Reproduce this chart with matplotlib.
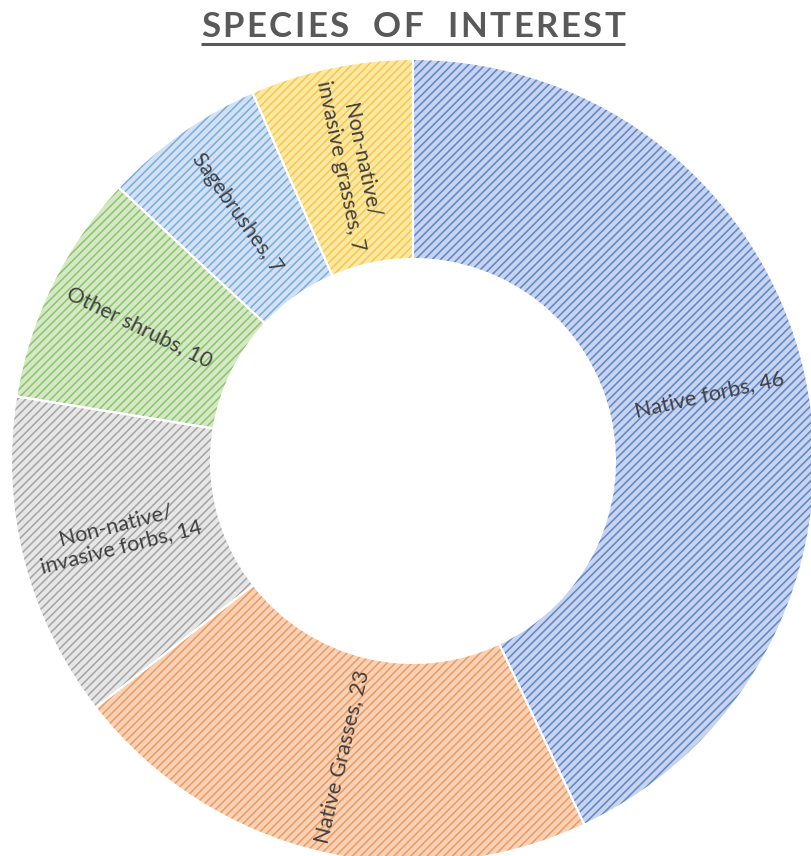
import numpy as np
import matplotlib
matplotlib.use("Agg")
import matplotlib.pyplot as plt
from matplotlib.font_manager import FontProperties

# Species counts by group
categories = [
    "Native forbs",
    "Native Grasses",
    "Non-native/\ninvasive forbs",
    "Other shrubs",
    "Sagebrushes",
    "Non-native/\ninvasive grasses",
]
counts = [46, 23, 14, 10, 7, 7]

fill_colors = ["#c6d4ef", "#f9d1b4", "#e6e6e6", "#d4e8c5", "#d1e2f4", "#fde8a3"]
hatch_colors = ["#6486c8", "#ec9c66", "#a6a6a6", "#90c46e", "#80acdd", "#f4c94f"]

plt.rcParams["hatch.linewidth"] = 1.15

W, H = 811, 856
fig = plt.figure(figsize=(W / 100, H / 100), dpi=100)
ax = fig.add_axes([0, 0, 1, 1])

cx, cy = 413, H - 461
r_out, r_in = 402, 202

wedges, _ = ax.pie(
    counts,
    startangle=90,
    counterclock=False,
    radius=r_out,
    center=(cx, cy),
    colors=fill_colors,
    wedgeprops=dict(width=r_out - r_in, linewidth=0),
    frame=True,
)
for w, hc in zip(wedges, hatch_colors):
    w.set_hatch("////")
    w.set_edgecolor(hc)
    w.set_linewidth(0)

# white separators between segments
ax.pie(
    counts,
    startangle=90,
    counterclock=False,
    radius=r_out,
    center=(cx, cy),
    colors=["none"] * len(counts),
    wedgeprops=dict(width=r_out - r_in, linewidth=1.5, edgecolor="white"),
    frame=True,
)
ax.set_xlim(0, W)
ax.set_ylim(0, H)
ax.set_aspect("equal")
ax.axis("off")

# radial data labels
total = sum(counts)
start = 90.0
r_lab = (r_out + r_in) / 2 + 2
for name, val in zip(categories, counts):
    sweep = 360.0 * val / total
    mid = start - sweep / 2
    start -= sweep
    th = np.deg2rad(mid)
    x, y = cx + r_lab * np.cos(th), cy + r_lab * np.sin(th)
    rot = mid
    if rot < -90:
        rot += 180
    if rot > 90:
        rot -= 180
    ax.text(x, y, f"{name}, {val}", rotation=rot, rotation_mode="anchor",
            ha="center", va="center", fontsize=15.5, color="#404040",
            family="Lato", linespacing=1.1, multialignment="center")

# title drawn letter by letter with extra tracking, then underlined
title = "SPECIES  OF  INTEREST"
fp = FontProperties(family="Lato", weight="bold", size=25)
renderer = fig.canvas.get_renderer()
def text_w(s):
    if not s:
        return 0.0
    w, _, _ = renderer.get_text_width_height_descent(s, fp, ismath=False)
    return w
x_left, x_right = 201, 625
full_w = text_w(title)
gap = (x_right - x_left - full_w) / (len(title) - 1)
for i, ch in enumerate(title):
    if ch == " ":
        continue
    xi = x_left + text_w(title[:i]) + i * gap
    ax.text(xi, H - 37, ch, ha="left", va="baseline", fontproperties=fp,
            color="#595959")
ax.plot([x_left, x_right], [H - 44, H - 44], color="#595959", lw=2.2,
        solid_capstyle="butt")

fig.savefig("out.png", dpi=100)
